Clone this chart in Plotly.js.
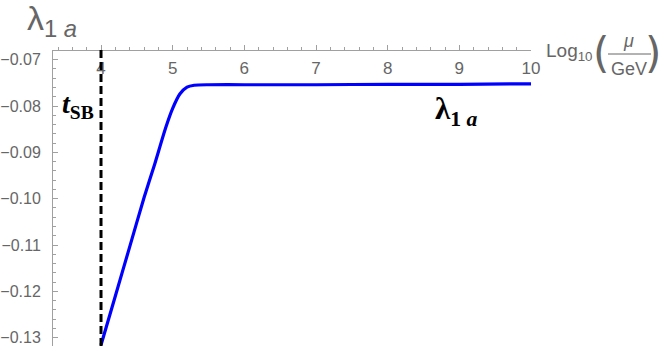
<!DOCTYPE html>
<html><head><meta charset="utf-8">
<script src="https://cdn.plot.ly/plotly-3.0.1.min.js"></script>
<style>body{margin:0;background:#fff}#plot{width:664px;height:351px}</style>
</head><body><div id="plot"></div>
<script>
// data
const logMu = [4.0, 4.2, 4.4, 4.6, 4.75, 4.9, 5.0, 5.1, 5.2, 5.3, 5.5, 6, 7, 8, 9, 10];
const lambda1a = [-0.1316, -0.1210, -0.1104, -0.0998, -0.0925, -0.0848, -0.0805, -0.0774, -0.0759, -0.0755, -0.0754, -0.0754, -0.0754, -0.0753, -0.0753, -0.0752];
const tSB = 4;
const xTicks = [4, 5, 6, 7, 8, 9, 10];
const yTicks = [-0.07, -0.08, -0.09, -0.10, -0.11, -0.12, -0.13];

const gray = '#666666';
const axisGray = '#a0a0a0';
const trace = {x: logMu, y: lambda1a, mode: 'lines', line: {color: '#0000ff', width: 3.2, shape: 'spline', smoothing: 0.6}, hoverinfo: 'skip'};

const L = 53, W = 478, B = 346, H = 296;
const px = v => (v - L) / W, py = v => (B - v) / H;

const layout = {
  width: 664, height: 351,
  margin: {l: 53, r: 133, t: 50, b: 5},
  paper_bgcolor: '#fff', plot_bgcolor: '#fff',
  showlegend: false,
  font: {family: 'Liberation Sans, Arial, sans-serif', size: 16, color: gray},
  xaxis: {
    range: [3.33, 10], anchor: 'free', position: 1, side: 'bottom',
    showgrid: false, zeroline: false, showline: true, linecolor: axisGray, linewidth: 1,
    tickvals: xTicks, ticktext: xTicks.map(String), ticks: 'inside', ticklen: 5, tickcolor: axisGray,
    minor: {dtick: 0.2, ticks: 'inside', ticklen: 3, tickcolor: axisGray},
    tickfont: {size: 17, color: gray}, ticklabelstandoff: 3
  },
  yaxis: {
    range: [-0.1318, -0.0679],
    showgrid: false, zeroline: false, showline: true, linecolor: axisGray, linewidth: 1,
    tickvals: yTicks, ticktext: yTicks.map(v => '\u2212' + Math.abs(v).toFixed(2)), ticks: 'inside', ticklen: 5, tickcolor: axisGray,
    minor: {dtick: 0.002, ticks: 'inside', ticklen: 3, tickcolor: axisGray},
    tickfont: {size: 16, color: gray}, ticklabelstandoff: 8
  },
  shapes: [
    {type: 'line', xref: 'x', yref: 'paper', x0: tSB, x1: tSB, y0: 0, y1: 1, line: {color: '#000', width: 3, dash: '8px,4px'}},
    {type: 'line', xref: 'paper', yref: 'paper', x0: px(608), x1: px(651), y0: py(54), y1: py(54), line: {color: gray, width: 1}}
  ],
  annotations: [
    {xref: 'paper', yref: 'paper', x: px(25), y: py(21), xanchor: 'left', yanchor: 'middle', showarrow: false,
     text: 'λ<sub>1 <i>a</i></sub>', font: {size: 34, color: gray}},
    {xref: 'paper', yref: 'paper', x: px(544), y: py(52), xanchor: 'left', yanchor: 'middle', showarrow: false,
     text: 'Log<sub>10</sub>', font: {size: 19, color: gray}},
    {xref: 'paper', yref: 'paper', x: px(601), y: py(54), xanchor: 'center', yanchor: 'middle', showarrow: false,
     text: '(', font: {family: 'DejaVu Sans, sans-serif', size: 42, color: gray}},
    {xref: 'paper', yref: 'paper', x: px(653), y: py(54), xanchor: 'center', yanchor: 'middle', showarrow: false,
     text: ')', font: {family: 'DejaVu Sans, sans-serif', size: 42, color: gray}},
    {xref: 'paper', yref: 'paper', x: px(628), y: py(41), xanchor: 'center', yanchor: 'middle', showarrow: false,
     text: '<i>μ</i>', font: {size: 18, color: gray}},
    {xref: 'paper', yref: 'paper', x: px(629), y: py(69), xanchor: 'center', yanchor: 'middle', showarrow: false,
     text: 'GeV', font: {size: 18, color: gray}},
    {xref: 'paper', yref: 'paper', x: px(60), y: py(106), xanchor: 'left', yanchor: 'middle', showarrow: false,
     text: '<b><i>t</i><sub>SB</sub></b>', font: {family: 'Liberation Serif, Times New Roman, serif', size: 28, color: '#000'}},
    {xref: 'paper', yref: 'paper', x: px(433), y: py(111), xanchor: 'left', yanchor: 'middle', showarrow: false,
     text: '<b>λ<sub>1 <i>a</i></sub></b>', font: {family: 'Liberation Serif, Times New Roman, serif', size: 31, color: '#000'}}
  ]
};
Plotly.newPlot('plot', [trace], layout, {staticPlot: true, displayModeBar: false});
</script></body></html>
